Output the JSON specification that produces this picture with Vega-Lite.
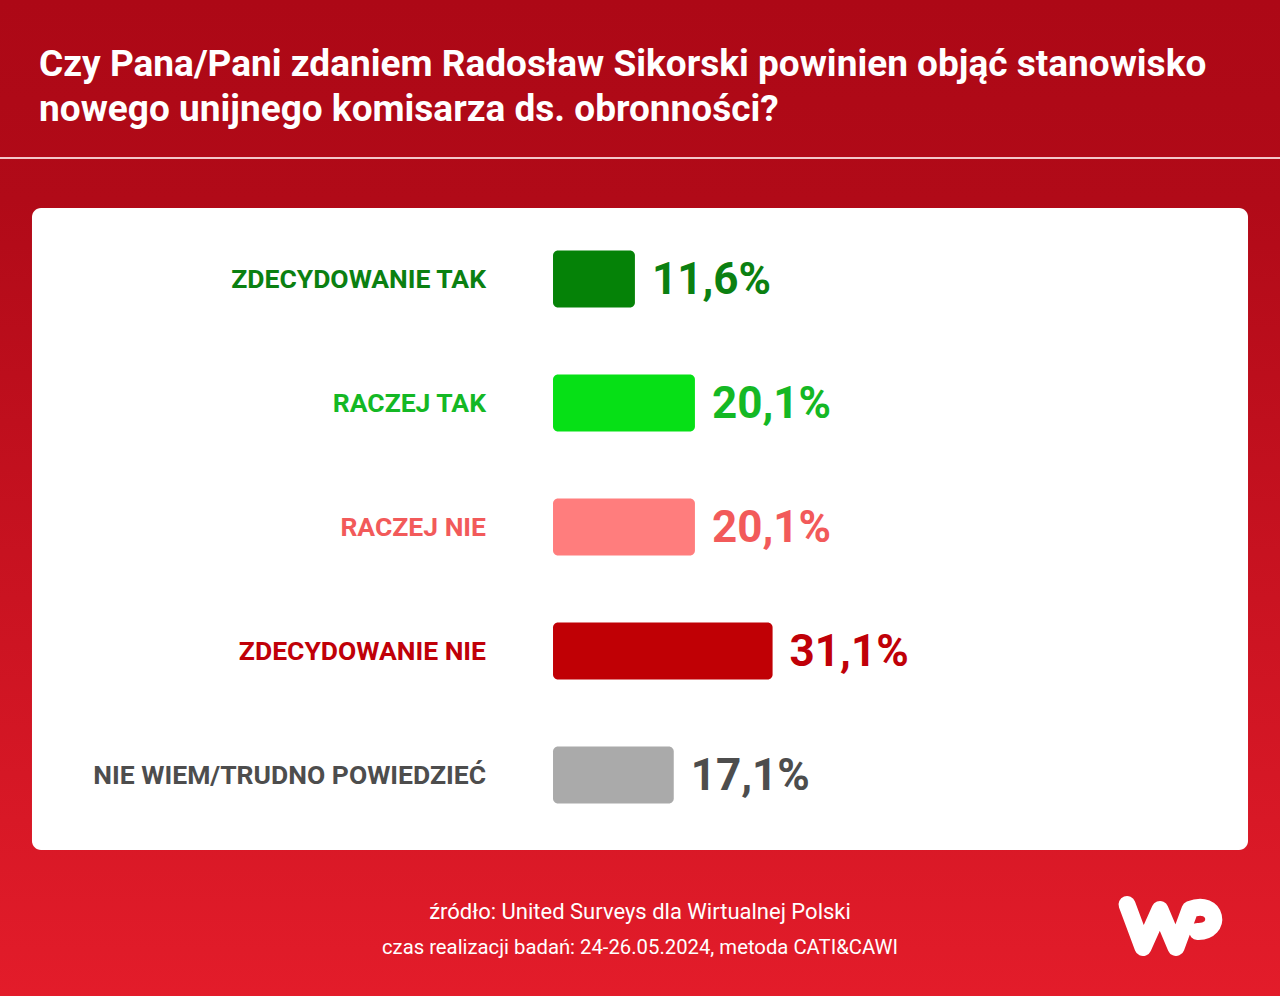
{
  "$schema": "https://vega.github.io/schema/vega-lite/v6.json",
  "width": 1280,
  "height": 996,
  "autosize": {"type": "none"},
  "padding": 0,
  "background": "#af0917",
  "config": {"view": {"stroke": null}, "font": "Roboto", "scale": {"continuousPadding": 0}},
  "data": {
    "values": [
      {"cat": "ZDECYDOWANIE TAK", "row": 1, "value": 11.6, "label": "11,6%"},
      {"cat": "RACZEJ TAK", "row": 2, "value": 20.1, "label": "20,1%"},
      {"cat": "RACZEJ NIE", "row": 3, "value": 20.1, "label": "20,1%"},
      {"cat": "ZDECYDOWANIE NIE", "row": 4, "value": 31.1, "label": "31,1%"},
      {"cat": "NIE WIEM/TRUDNO POWIEDZIEĆ", "row": 5, "value": 17.1, "label": "17,1%"}
    ]
  },
  "layer": [
    {
      "data": {"values": [{}]},
      "mark": {
        "type": "rect",
        "color": {
          "gradient": "linear", "x1": 0, "y1": 0, "x2": 0, "y2": 1,
          "stops": [
            {"offset": 0, "color": "#ad0816"},
            {"offset": 0.2, "color": "#b10a18"},
            {"offset": 1, "color": "#e31c2a"}
          ]
        }
      },
      "encoding": {
        "x": {"datum": -78.33, "type": "quantitative", "scale": {"domain": [-78.33, 102.97], "nice": false, "zero": false, "padding": 0}, "axis": null},
        "x2": {"datum": 102.97},
        "y": {"datum": -1.25, "type": "quantitative", "scale": {"domain": [-1.25, 6.782], "nice": false, "zero": false, "reverse": true, "padding": 0}, "axis": null},
        "y2": {"datum": 6.782}
      }
    },
    {
      "data": {"values": [{}]},
      "mark": {"type": "rule", "color": "#f4c6c9", "strokeWidth": 2},
      "encoding": {
        "y": {"datum": 0.024, "type": "quantitative", "scale": {"domain": [-1.25, 6.782], "nice": false, "zero": false, "reverse": true, "padding": 0}, "axis": null}
      }
    },
    {
      "data": {"values": [{}]},
      "mark": {
        "type": "text", "color": "white", "font": "Roboto", "fontWeight": "bold", "fontSize": 37,
        "align": "left", "baseline": "alphabetic", "lineHeight": 45,
        "text": ["Czy Pana/Pani zdaniem Radosław Sikorski powinien objąć stanowisko", "nowego unijnego komisarza ds. obronności?"]
      },
      "encoding": {
        "x": {"datum": -72.80, "type": "quantitative", "scale": {"domain": [-78.33, 102.97], "nice": false, "zero": false, "padding": 0}, "axis": null},
        "y": {"datum": -0.637, "type": "quantitative", "scale": {"domain": [-1.25, 6.782], "nice": false, "zero": false, "reverse": true, "padding": 0}, "axis": null}
      }
    },
    {
      "data": {"values": [{}]},
      "mark": {"type": "rect", "color": "white", "cornerRadius": 9},
      "encoding": {
        "x": {"datum": -73.80, "type": "quantitative", "scale": {"domain": [-78.33, 102.97], "nice": false, "zero": false, "padding": 0}, "axis": null},
        "x2": {"datum": 98.44},
        "y": {"datum": 0.427, "type": "quantitative", "scale": {"domain": [-1.25, 6.782], "nice": false, "zero": false, "reverse": true, "padding": 0}, "axis": null},
        "y2": {"datum": 5.605}
      }
    },
    {
      "mark": {"type": "bar", "size": 57, "cornerRadius": 5},
      "encoding": {
        "x": {"field": "value", "type": "quantitative", "scale": {"domain": [-78.33, 102.97], "nice": false, "zero": false, "padding": 0}, "axis": null},
        "x2": {"datum": 0},
        "y": {"field": "row", "type": "quantitative", "scale": {"domain": [-1.25, 6.782], "nice": false, "zero": false, "reverse": true, "padding": 0}, "axis": null},
        "color": {
          "field": "cat", "type": "nominal", "legend": null,
          "scale": {
            "domain": ["ZDECYDOWANIE TAK", "RACZEJ TAK", "RACZEJ NIE", "ZDECYDOWANIE NIE", "NIE WIEM/TRUDNO POWIEDZIEĆ"],
            "range": ["#058207", "#06e016", "#ff7d7d", "#c00005", "#aaaaaa"]
          }
        }
      }
    },
    {
      "mark": {"type": "text", "font": "Roboto", "fontWeight": "bold", "fontSize": 26.5, "align": "right", "baseline": "middle", "dx": -67, "dy": 1},
      "encoding": {
        "x": {"datum": 0, "type": "quantitative", "scale": {"domain": [-78.33, 102.97], "nice": false, "zero": false, "padding": 0}, "axis": null},
        "y": {"field": "row", "type": "quantitative", "scale": {"domain": [-1.25, 6.782], "nice": false, "zero": false, "reverse": true, "padding": 0}, "axis": null},
        "text": {"field": "cat"},
        "fill": {
          "field": "cat", "type": "nominal", "legend": null,
          "scale": {
            "domain": ["ZDECYDOWANIE TAK", "RACZEJ TAK", "RACZEJ NIE", "ZDECYDOWANIE NIE", "NIE WIEM/TRUDNO POWIEDZIEĆ"],
            "range": ["#0b8011", "#14b824", "#f25a5a", "#c00008", "#4d4d4d"]
          }
        }
      }
    },
    {
      "mark": {"type": "text", "font": "Roboto", "fontWeight": "bold", "fontSize": 44, "align": "left", "baseline": "middle", "dx": 17, "dy": 2},
      "encoding": {
        "x": {"field": "value", "type": "quantitative", "scale": {"domain": [-78.33, 102.97], "nice": false, "zero": false, "padding": 0}, "axis": null},
        "y": {"field": "row", "type": "quantitative", "scale": {"domain": [-1.25, 6.782], "nice": false, "zero": false, "reverse": true, "padding": 0}, "axis": null},
        "text": {"field": "label"},
        "fill": {
          "field": "cat", "type": "nominal", "legend": null,
          "scale": {
            "domain": ["ZDECYDOWANIE TAK", "RACZEJ TAK", "RACZEJ NIE", "ZDECYDOWANIE NIE", "NIE WIEM/TRUDNO POWIEDZIEĆ"],
            "range": ["#0b8011", "#0cbb1c", "#f25a5a", "#c00008", "#595959"]
          }
        }
      }
    },
    {
      "data": {"values": [{}]},
      "mark": {
        "type": "text", "color": "white", "font": "Roboto", "fontSize": 22,
        "align": "center", "baseline": "alphabetic",
        "text": "źródło: United Surveys dla Wirtualnej Polski"
      },
      "encoding": {
        "x": {"datum": 12.32, "type": "quantitative", "scale": {"domain": [-78.33, 102.97], "nice": false, "zero": false, "padding": 0}, "axis": null},
        "y": {"datum": 6.161, "type": "quantitative", "scale": {"domain": [-1.25, 6.782], "nice": false, "zero": false, "reverse": true, "padding": 0}, "axis": null}
      }
    },
    {
      "data": {"values": [{}]},
      "mark": {
        "type": "text", "color": "white", "font": "Roboto", "fontSize": 20.3,
        "align": "center", "baseline": "alphabetic",
        "text": "czas realizacji badań: 24-26.05.2024, metoda CATI&CAWI"
      },
      "encoding": {
        "x": {"datum": 12.32, "type": "quantitative", "scale": {"domain": [-78.33, 102.97], "nice": false, "zero": false, "padding": 0}, "axis": null},
        "y": {"datum": 6.44, "type": "quantitative", "scale": {"domain": [-1.25, 6.782], "nice": false, "zero": false, "reverse": true, "padding": 0}, "axis": null}
      }
    },
    {
      "data": {"values": [{}]},
      "mark": {
        "type": "point", "filled": false, "stroke": "white", "strokeWidth": 17, "strokeCap": "round", "strokeJoin": "round", "opacity": 1, "size": 10000,
        "shape": "M-0.86,-0.4 L-0.54,0.46 L-0.2,-0.3 L0.12,0.46 L0.4,-0.3 C0.95,-0.52 1.05,0.16 0.55,0.14"
      },
      "encoding": {
        "x": {"datum": 87.39, "type": "quantitative", "scale": {"domain": [-78.33, 102.97], "nice": false, "zero": false, "padding": 0}, "axis": null},
        "y": {"datum": 6.205, "type": "quantitative", "scale": {"domain": [-1.25, 6.782], "nice": false, "zero": false, "reverse": true, "padding": 0}, "axis": null}
      }
    }
  ]
}
